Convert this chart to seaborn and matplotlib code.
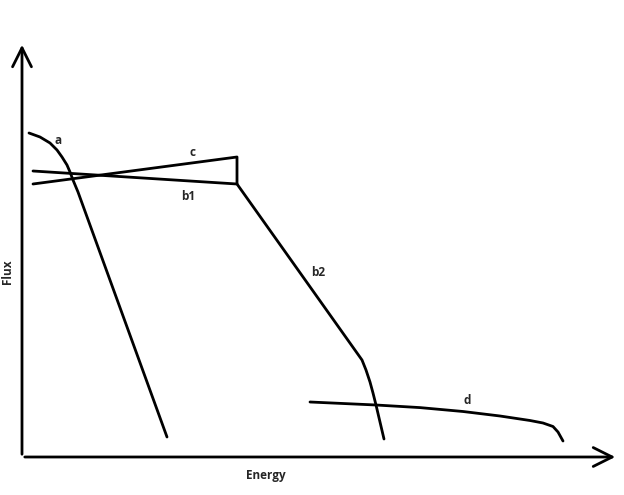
import matplotlib
matplotlib.use("Agg")
import matplotlib.pyplot as plt
import seaborn as sns
import pandas as pd

# schematic curves, units: px from the axis origin (energy right, flux up)
a_energy = [7, 18, 28, 35, 40, 45, 48, 51, 56, 145]
a_flux = [324, 320, 314, 307, 300, 292, 285, 277, 265, 20]

b_energy = [11, 215, 340, 344, 348, 351, 354, 358, 362]
b_flux = [286, 273, 97, 87, 75, 64, 52, 35, 18]

c_energy = [11, 215, 215]
c_flux = [273, 300, 273]

d_energy = [288, 354, 398, 441, 478, 508, 521, 531, 536, 541]
d_flux = [55, 52, 49.4, 45.5, 41, 36.5, 34, 30.5, 25, 16]

labels = ["a", "c", "b1", "b2", "d"]
label_energy = [36, 170, 166, 296, 445]
label_flux = [317, 305, 261, 185, 57]

sns.set_style("white")
plt.rcParams['font.family'] = ['Open Sans', 'DejaVu Sans']

fig = plt.figure(figsize=(6.24, 4.95), dpi=100)
ax = fig.add_axes([0, 0, 1, 1])

curves = [(a_energy, a_flux), (b_energy, b_flux), (c_energy, c_flux), (d_energy, d_flux)]
for xs, ys in curves:
    df = pd.DataFrame({"Energy": xs, "Flux": ys})
    sns.lineplot(data=df, x="Energy", y="Flux", sort=False, estimator=None,
                 color="black", lw=2.0, ax=ax)

for lab, x, y in zip(labels, label_energy, label_flux):
    ax.text(x, y, lab, fontsize=8.5, fontweight="bold", ha="center", va="center")

# axis arrows
arrow = dict(arrowstyle="->", lw=2.0, color="black", mutation_scale=34)
ax.annotate("", xy=(0, 415), xytext=(0, 0), arrowprops=arrow)
ax.annotate("", xy=(596, 0), xytext=(0, 0), arrowprops=arrow)

ax.text(-14, 185, "Flux", rotation=90, fontsize=8.5, fontweight="bold",
        ha="center", va="center")
ax.text(244, -19, "Energy", fontsize=8.5, fontweight="bold", ha="center", va="center")

ax.set_xlim(-22, 602)
ax.set_ylim(-38, 457)
ax.set_axis_off()

fig.savefig("out.png", dpi=100)
plt.close(fig)
